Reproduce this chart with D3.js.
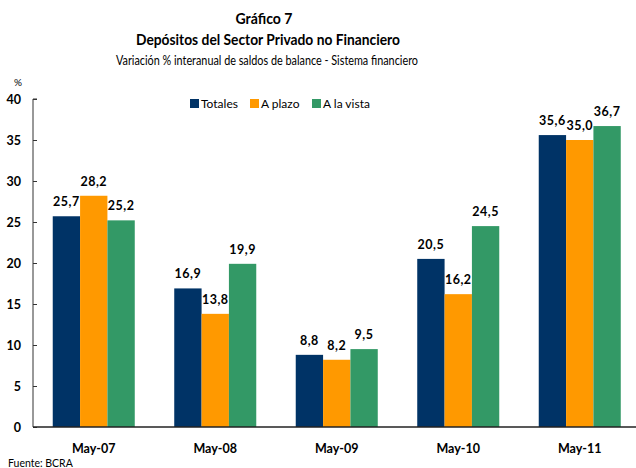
<!DOCTYPE html>
<html><head><meta charset="utf-8">
<script src="https://cdn.jsdelivr.net/npm/d3@7"></script>
<style>body{margin:0;background:#fff}svg{display:block}text{font-family:Lato,"Open Sans",sans-serif;fill:#000}</style>
</head><body><svg id="c" width="636" height="468"></svg>
<script>
const categories = ["May-07","May-08","May-09","May-10","May-11"];
const seriesNames = ["Totales","A plazo","A la vista"];
const totales = [25.7,16.9,8.8,20.5,35.6];
const aPlazo = [28.2,13.8,8.2,16.2,35.0];
const aLaVista = [25.2,19.9,9.5,24.5,36.7];
const yTicks = [0,5,10,15,20,25,30,35,40];
const colors = ["#003366","#FF9900","#339966"];

const svg = d3.select("#c");
const series = [totales,aPlazo,aLaVista];
const x0 = d3.scaleBand().domain(categories).range([33,640.5]).paddingInner(0.325).paddingOuter(0.1625);
const x1 = d3.scaleBand().domain(seriesNames).range([0,x0.bandwidth()]);
const y = d3.scaleLinear().domain([0,40]).range([427,99]);

// titles
svg.append("text").attr("x",264).attr("y",24).attr("text-anchor","middle").attr("font-weight","bold").attr("font-size",16).attr("textLength",57).attr("lengthAdjust","spacingAndGlyphs").text("Gráfico 7");
svg.append("text").attr("x",268).attr("y",45).attr("text-anchor","middle").attr("font-weight","bold").attr("font-size",16).attr("textLength",264).attr("lengthAdjust","spacingAndGlyphs").text("Depósitos del Sector Privado no Financiero");
svg.append("text").attr("x",267).attr("y",65).attr("text-anchor","middle").attr("font-size",13).attr("textLength",302).attr("lengthAdjust","spacingAndGlyphs").text("Variación % interanual de saldos de balance - Sistema financiero");
svg.append("text").attr("x",18).attr("y",86).attr("text-anchor","middle").attr("font-size",10).text("%");

// y axis
const ya = svg.append("g").attr("transform","translate(33,0)").call(d3.axisRight(y).tickValues(yTicks).tickSize(4).tickFormat(""));
ya.select(".domain").attr("d","M4,99H0V427").attr("stroke","#333").attr("fill","none");
ya.selectAll(".tick line").attr("stroke","#333");
svg.selectAll(".ylab").data(yTicks).join("text").attr("x",21).attr("y",d=>y(d)+4.5).attr("text-anchor","end").attr("font-weight","bold").attr("font-size",12.5).text(d=>d);

// bars
categories.forEach((c,i)=>{
  seriesNames.forEach((s,j)=>{
    const v = series[j][i];
    svg.append("rect").attr("x",x0(c)+x1(s)).attr("y",y(v)).attr("width",x1.bandwidth()).attr("height",y(0)-y(v)).attr("fill",colors[j]);
    svg.append("text").attr("x",x0(c)+x1(s)+x1.bandwidth()/2).attr("y",y(v)-10).attr("text-anchor","middle").attr("font-weight","bold").attr("font-size",12.5).attr("letter-spacing",0.5).text(d3.format(".1f")(v).replace(".",","));
  });
});

// x axis
const xa = svg.append("g").attr("transform","translate(0,427)").call(d3.axisBottom(x0).tickSize(0).tickPadding(17));
xa.select(".domain").attr("d","M33,0H636").attr("stroke","#222").attr("stroke-width",1.5);
xa.selectAll(".tick text").attr("font-family","Lato,sans-serif").attr("font-weight","bold").attr("font-size",12.5).attr("fill","#000");

// legend
const lx = [190,250,312];
seriesNames.forEach((s,j)=>{
  svg.append("rect").attr("x",lx[j]).attr("y",99).attr("width",9).attr("height",9).attr("fill",colors[j]);
  svg.append("text").attr("x",lx[j]+11).attr("y",108).attr("font-size",12).text(s);
});

svg.append("text").attr("x",8).attr("y",467).attr("font-size",10.5).text("Fuente: BCRA");
</script></body></html>
